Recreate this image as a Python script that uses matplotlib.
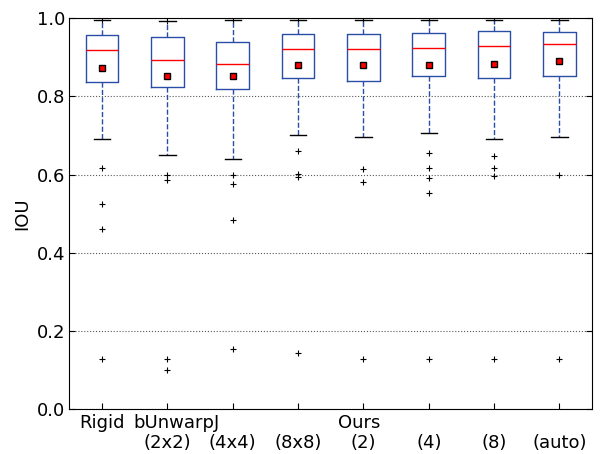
import matplotlib
matplotlib.use('Agg')
import matplotlib.pyplot as plt
import matplotlib.transforms as mtransforms

# second row of x labels, one per box
tick_labels = ['', '(2x2)', '(4x4)', '(8x8)', '(2)', '(4)', '(8)', '(auto)']
# first row: method names, placed over their groups
group_labels = ['Rigid', 'bUnwarpJ', 'Ours']
group_pos = [1.0, 2.14, 4.93]

whis_hi = [0.996, 0.994, 0.996, 0.996, 0.996, 0.996, 0.996, 0.996]
q3 = [0.957, 0.951, 0.940, 0.960, 0.960, 0.962, 0.966, 0.964]
med = [0.919, 0.892, 0.884, 0.922, 0.922, 0.924, 0.928, 0.934]
means = [0.872, 0.852, 0.852, 0.880, 0.881, 0.881, 0.882, 0.890]
q1 = [0.836, 0.823, 0.819, 0.846, 0.839, 0.851, 0.847, 0.852]
whis_lo = [0.690, 0.650, 0.640, 0.701, 0.696, 0.707, 0.692, 0.696]
fliers = [
  [0.616, 0.525, 0.460, 0.128],
  [0.600, 0.587, 0.128, 0.100],
  [0.600, 0.577, 0.483, 0.153],
  [0.660, 0.602, 0.594, 0.143],
  [0.614, 0.581, 0.129],
  [0.654, 0.617, 0.592, 0.553, 0.129],
  [0.647, 0.616, 0.597, 0.129],
  [0.598, 0.129],
]

blue = '#2a4ea6'


def build_stats():
  stats = []
  for i in range(len(med)):
    stats.append(dict(whislo=whis_lo[i], q1=q1[i], med=med[i], q3=q3[i],
                      whishi=whis_hi[i], mean=means[i], fliers=fliers[i]))
  return stats


fig = plt.figure(figsize=(6.03, 4.54), dpi=100)
ax = fig.add_axes([0.115, 0.099, 0.867, 0.861])

positions = list(range(1, len(med) + 1))
ax.bxp(build_stats(), positions=positions, widths=0.5, showmeans=True,
       boxprops=dict(color=blue, linewidth=1.0),
       whiskerprops=dict(color=blue, linestyle='--', linewidth=1.0),
       capprops=dict(color='k', linewidth=1.0),
       medianprops=dict(color='red', linewidth=1.0),
       meanprops=dict(marker='s', markerfacecolor='red',
                      markeredgecolor='k', markersize=4.5),
       flierprops=dict(marker='+', markeredgecolor='k', markersize=4,
                       markeredgewidth=0.8))

ax.set_xlim(0.5, 8.5)
ax.set_ylim(0.0, 1.0)
ax.set_yticks([0.0, 0.2, 0.4, 0.6, 0.8, 1.0])
ax.set_xticks(positions)
ax.set_xticklabels(tick_labels)
ax.yaxis.grid(True, linestyle=':', color='0.35', linewidth=0.8)
ax.set_axisbelow(True)
ax.tick_params(direction='in', top=True, right=True, length=4,
               labelsize=13, pad=3)
ax.tick_params(axis='x', pad=18)
ax.set_ylabel('IOU', fontsize=13)

trans = mtransforms.blended_transform_factory(ax.transData, ax.transAxes)
for name, x in zip(group_labels, group_pos):
  ax.text(x, -0.012, name, transform=trans, ha='center', va='top',
          fontsize=13)

fig.savefig('out.png', dpi=100)
